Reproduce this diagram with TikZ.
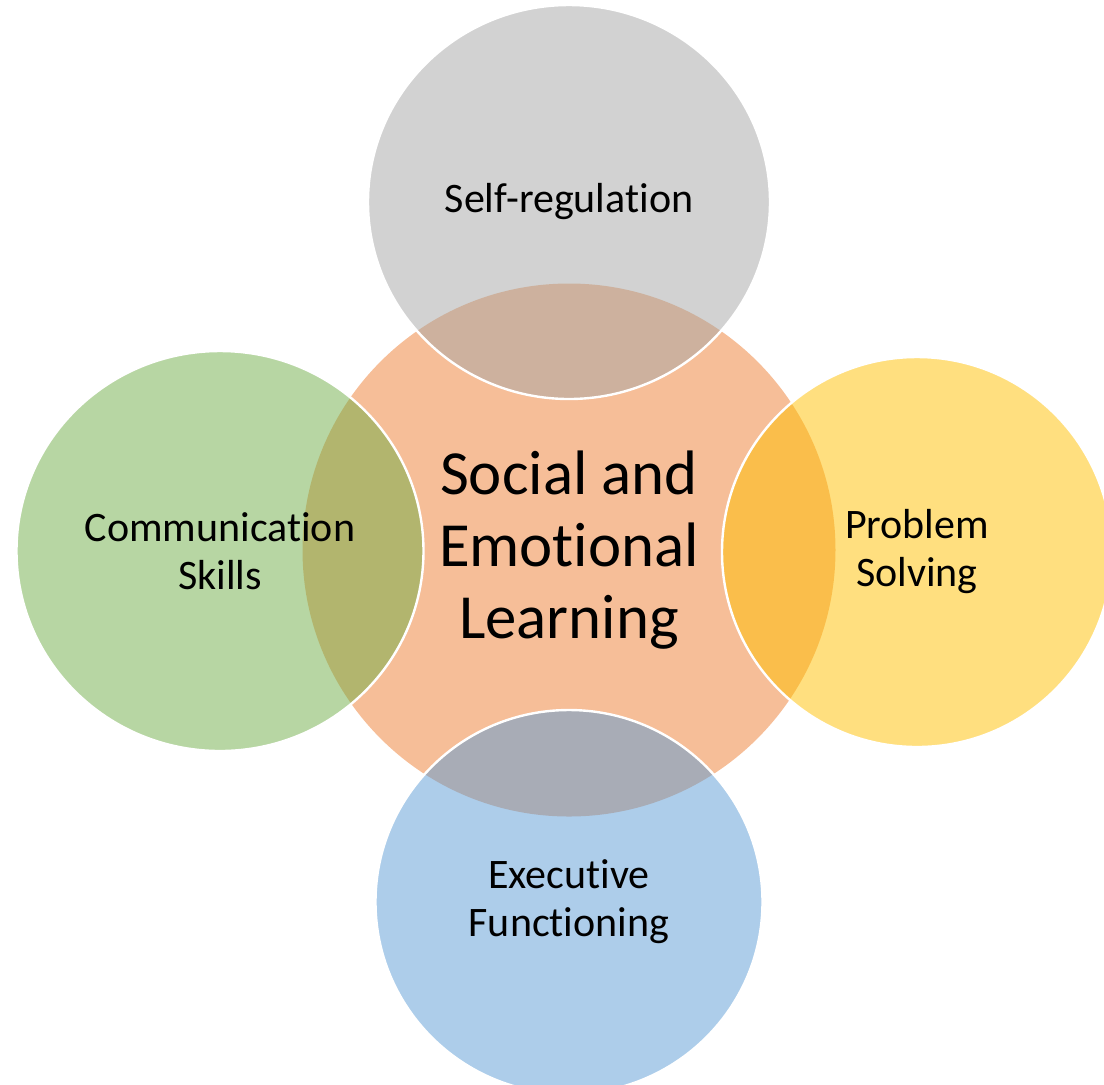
\documentclass[tikz,border=0pt]{standalone}
\usepackage{fontspec}
\setmainfont[Ligatures={NoCommon,NoContextual,NoRare}, Contextuals=NoAlternate]{Carlito}
\usepackage{tikz}
\usetikzlibrary{shapes.geometric}
\definecolor{accorange}{HTML}{ED7D31}
\definecolor{accgray}{HTML}{A5A5A5}
\definecolor{accgreen}{HTML}{70AD47}
\definecolor{accyellow}{HTML}{FFC000}
\definecolor{accblue}{HTML}{5B9BD5}

\begin{document}
\begin{tikzpicture}[x=0.5pt, y=-0.5pt,
	every node/.style={ellipse, inner sep=0pt, align=center, text=black},
	core/.style={fill=accorange, fill opacity=0.5, text opacity=1, minimum size=266.5pt, font=\fontsize{31.4}{36}\selectfont},
	petal/.style={fill=#1, fill opacity=0.5, draw=white, draw opacity=1, text opacity=1, line width=1.2pt, font=\fontsize{21}{24}\selectfont}]
			\useasboundingbox (0,0) rectangle (1104,1084);
			\clip (0,0) rectangle (1104,1084);
			\node[core] (sel) at (569,550) {Social and\\Emotional\\Learning};
			\foreach \name/\x/\y/\w/\h/\col/\txt in {selfreg/569/202/201/197/accgray/{Self-regulation}, comm/220/551/203.5/200/accgreen/{Communication\\Skills}, prob/917/552/195/195/accyellow/{Problem\\Solving}, exec/569/902/193.5/192/accblue/{Executive\\Functioning}}
			{
				\node[petal=\col, minimum width=\w pt, minimum height=\h pt] (\name) at (\x,\y) {\txt};
			}
		\end{tikzpicture}
\end{document}
